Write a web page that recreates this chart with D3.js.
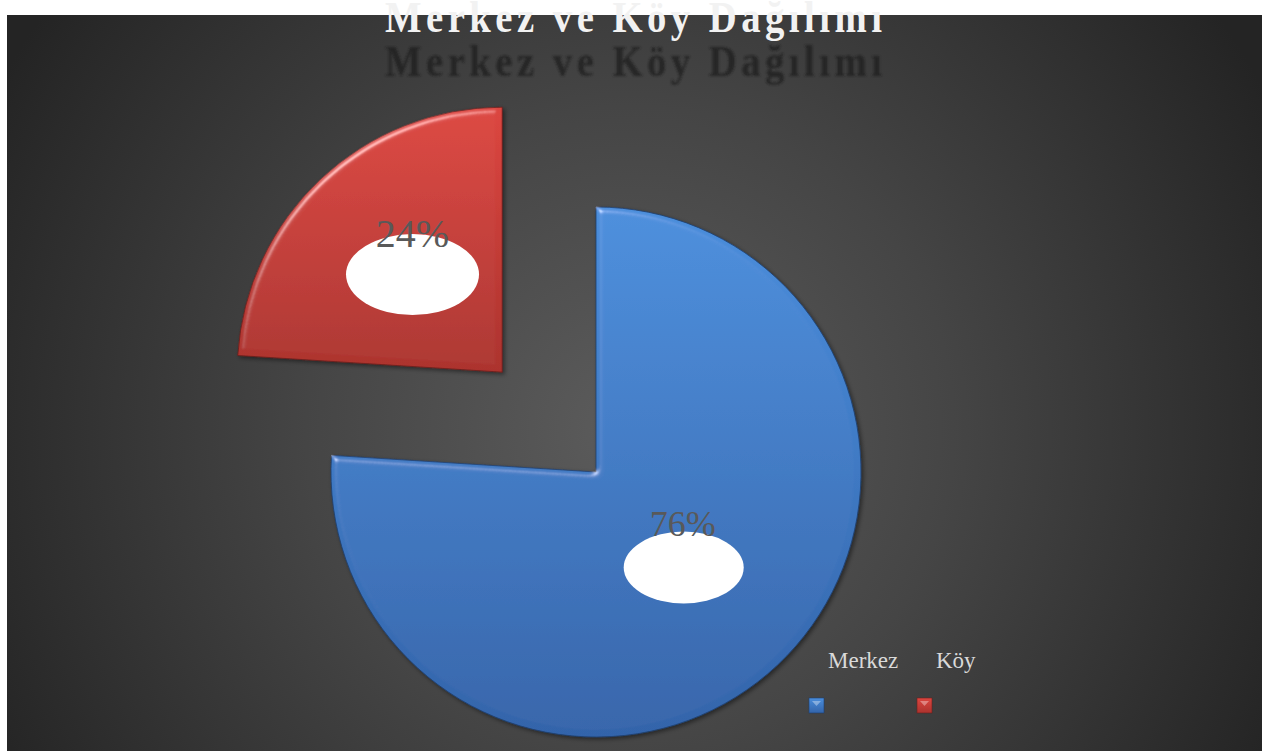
<!DOCTYPE html>
<html>
<head>
<meta charset="utf-8">
<script src="https://cdn.jsdelivr.net/npm/d3@7"></script>
<style>
  html, body { margin: 0; padding: 0; background: #ffffff; }
  svg { display: block; }
</style>
</head>
<body>
<svg id="chart" width="1262" height="751"></svg>
<script>
// Share of population: city centre vs villages
const categories = ["Merkez", "Köy"];
const shares = [76, 24];
const sliceColors = [
  { top: "#4b8edc", bottom: "#3364aa", edge: "#1d3f70" },
  { top: "#dc4640", bottom: "#ac332e", edge: "#6a1e1b" }
];
const titleText = "Merkez ve Köy Dağılımı";

const W = 1262, H = 751;
const svg = d3.select("#chart");
const defs = svg.append("defs");

// dark panel with a soft radial light
const bg = defs.append("radialGradient").attr("id", "bgGrad")
  .attr("gradientUnits", "userSpaceOnUse")
  .attr("cx", 630).attr("cy", 430).attr("r", 720);
bg.append("stop").attr("offset", "0").attr("stop-color", "#5c5c5c");
bg.append("stop").attr("offset", "0.45").attr("stop-color", "#454545");
bg.append("stop").attr("offset", "1").attr("stop-color", "#242424");

svg.append("rect").attr("x", 7).attr("y", 15)
  .attr("width", W - 7).attr("height", H - 15)
  .attr("fill", "url(#bgGrad)");

// vertical shading for each slice
sliceColors.forEach((c, i) => {
  const g = defs.append("linearGradient").attr("id", "slice" + i)
    .attr("x1", 0).attr("y1", 0).attr("x2", 0).attr("y2", 1);
  g.append("stop").attr("offset", "0").attr("stop-color", c.top);
  g.append("stop").attr("offset", "1").attr("stop-color", c.bottom);
});

// bevel: specular light from the upper left on a blurred alpha
const bevel = defs.append("filter").attr("id", "bevel")
  .attr("x", "-10%").attr("y", "-10%").attr("width", "120%").attr("height", "120%");
bevel.append("feGaussianBlur").attr("in", "SourceAlpha").attr("stdDeviation", 3).attr("result", "blur");
const spec = bevel.append("feSpecularLighting").attr("in", "blur")
  .attr("surfaceScale", 4).attr("specularConstant", 0.7)
  .attr("specularExponent", 40).attr("lighting-color", "#ffffff").attr("result", "spec");
spec.append("feDistantLight").attr("azimuth", 235).attr("elevation", 40);
bevel.append("feComposite").attr("in", "spec").attr("in2", "SourceAlpha")
  .attr("operator", "in").attr("result", "specIn");
bevel.append("feComposite").attr("in", "SourceGraphic").attr("in2", "specIn")
  .attr("operator", "arithmetic").attr("k1", 0).attr("k2", 1).attr("k3", 0.6).attr("k4", 0)
  .attr("result", "lit");
bevel.append("feDropShadow").attr("in", "lit").attr("dx", 2).attr("dy", 2)
  .attr("stdDeviation", 2).attr("flood-color", "#000").attr("flood-opacity", 0.45);

const titleBlur = defs.append("filter").attr("id", "titleBlur");
titleBlur.append("feGaussianBlur").attr("stdDeviation", 1.2);

// title and its dark echo below (slightly condensed serif)
const titleX = 633.5, titleW = 497, squeeze = 0.88;
[{ y: 76, fill: "#1e1e1e", opacity: 0.72, blur: true },
 { y: 32, fill: "#f2f2f2", opacity: 1, blur: false }].forEach(t => {
  const txt = svg.append("g")
    .attr("transform", `translate(${titleX},${t.y}) scale(${squeeze},1)`)
    .append("text")
    .attr("x", 0).attr("y", 0)
    .attr("text-anchor", "middle")
    .attr("textLength", titleW / squeeze).attr("lengthAdjust", "spacing")
    .attr("font-family", "'Liberation Serif', 'Times New Roman', serif")
    .attr("font-weight", "bold").attr("font-size", 44)
    .attr("fill", t.fill).attr("opacity", t.opacity)
    .text(titleText);
  if (t.blur) txt.attr("filter", "url(#titleBlur)");
});

// pie
const cx = 596, cy = 472, R = 265;
const explode = [0, 137];
const pie = d3.pie().sort(null).value(d => d).startAngle(0).endAngle(2 * Math.PI);
const arcs = pie(shares);
const arc = d3.arc().innerRadius(0).outerRadius(R);

const sliceG = svg.append("g").attr("transform", `translate(${cx},${cy})`);
const slices = sliceG.selectAll("g.slice").data(arcs).join("g")
  .attr("class", "slice")
  .attr("transform", (d, i) => {
    const mid = (d.startAngle + d.endAngle) / 2;
    const dx = Math.sin(mid) * explode[i], dy = -Math.cos(mid) * explode[i];
    return `translate(${dx},${dy})`;
  });

slices.append("path")
  .attr("d", arc)
  .attr("fill", (d, i) => `url(#slice${i})`)
  .attr("stroke", (d, i) => sliceColors[i].edge)
  .attr("stroke-width", 0.8)
  .attr("filter", "url(#bevel)");

// value labels over white callout ellipses
slices.each(function (d, i) {
  const [lx, ly] = arc.centroid(d);
  const g = d3.select(this);
  const rx = i === 0 ? 60 : 66.5, ry = i === 0 ? 36 : 40.5;
  g.append("ellipse").attr("cx", lx - (i === 0 ? 3 : -1)).attr("cy", ly - 1)
    .attr("rx", rx).attr("ry", ry).attr("fill", "#ffffff");
  g.append("text")
    .attr("x", lx - (i === 0 ? 4 : -1)).attr("y", ly - (i === 0 ? 33 : 29))
    .attr("text-anchor", "middle")
    .attr("font-family", "'Liberation Serif', 'Times New Roman', serif")
    .attr("font-size", i === 0 ? 36 : 40)
    .attr("fill", "#595959")
    .text(d3.format(".0%")(d.data / d3.sum(shares)));
});

// legend
const legendX = d3.scaleOrdinal().domain(categories).range([809, 917]);
const legend = svg.append("g");
categories.forEach((c, i) => {
  const x = legendX(c);
  legend.append("text")
    .attr("x", x + 19).attr("y", 668)
    .attr("font-family", "'Liberation Serif', 'Times New Roman', serif")
    .attr("font-size", 23)
    .attr("fill", "#d9d9d9")
    .text(c);
  legend.append("rect")
    .attr("x", x).attr("y", 698).attr("width", 15).attr("height", 15)
    .attr("fill", `url(#slice${i})`)
    .attr("stroke", sliceColors[i].edge).attr("stroke-width", 0.6);
  legend.append("path")
    .attr("d", `M${x + 3},701L${x + 12},701L${x + 7.5},706Z`)
    .attr("fill", "#ffffff").attr("opacity", 0.35);
});
</script>
</body>
</html>
